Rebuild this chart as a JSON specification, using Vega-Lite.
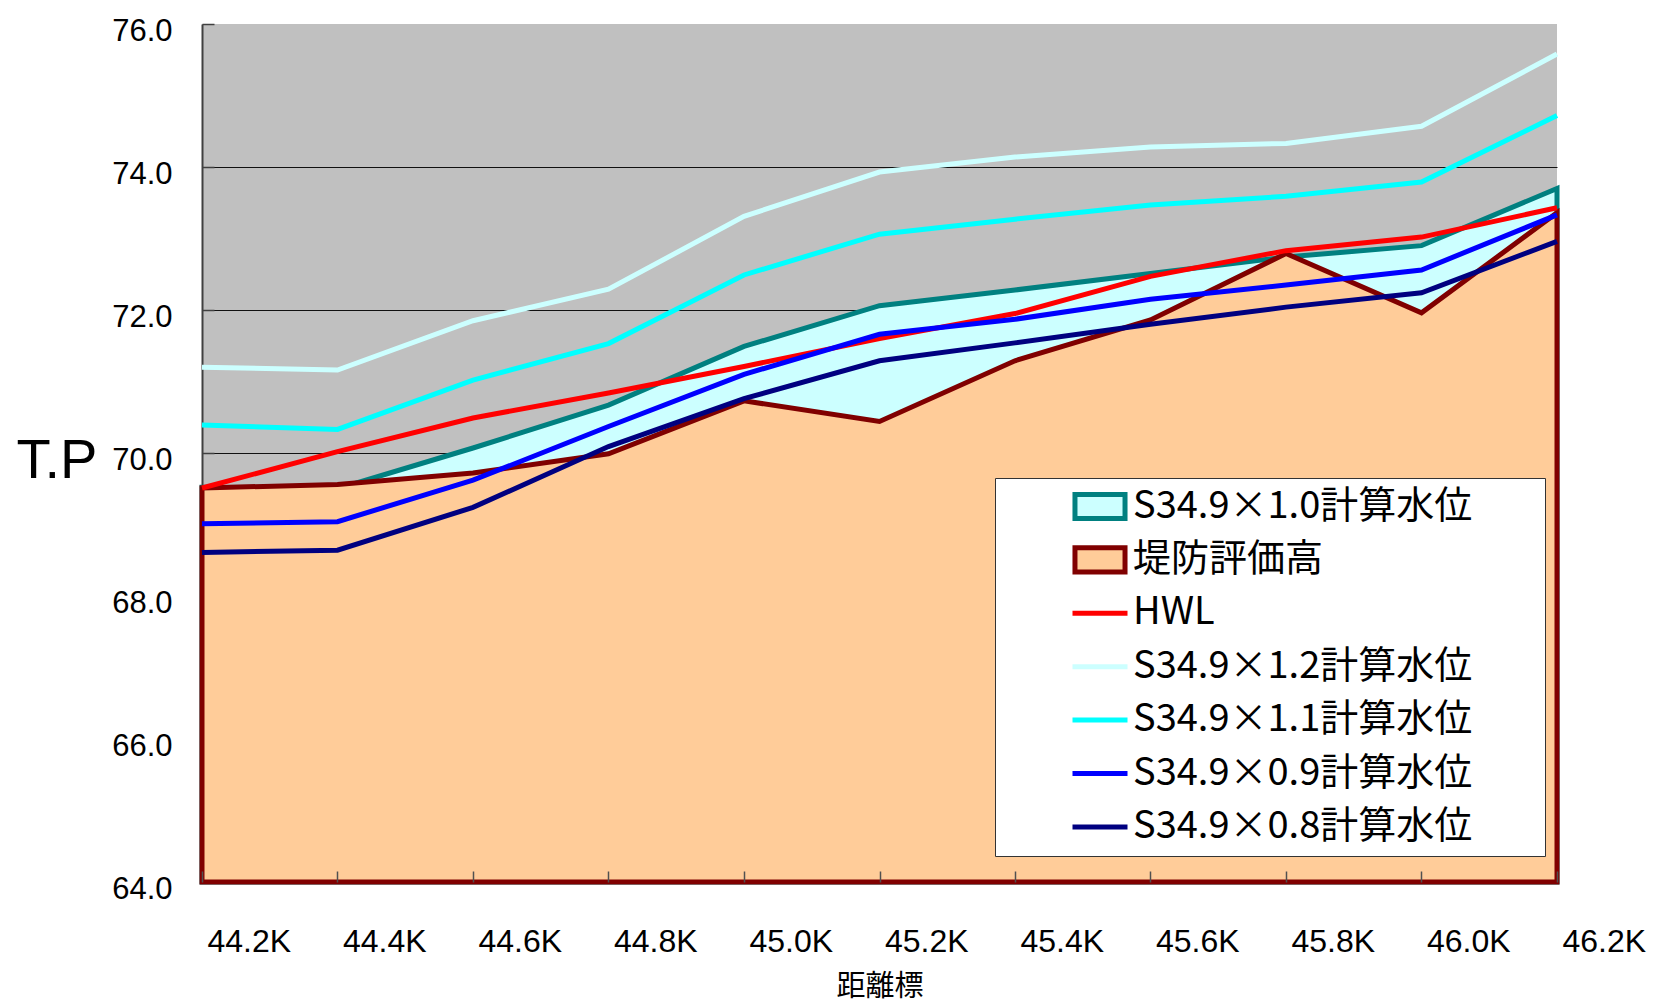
{
  "$schema": "https://vega.github.io/schema/vega-lite/v6.json",
  "width": 1355,
  "height": 858,
  "autosize": {"type": "none"},
  "padding": {"left": 202, "top": 24, "right": 97, "bottom": 120},
  "background": "white",
  "config": {
    "view": {"fill": "#C0C0C0", "stroke": null}
  },
  "datasets": {
    "levels": [
      {"km": 44.2, "series": "S34.9×1.0計算水位", "tp": 69.52},
      {"km": 44.4, "series": "S34.9×1.0計算水位", "tp": 69.50},
      {"km": 44.6, "series": "S34.9×1.0計算水位", "tp": 70.07},
      {"km": 44.8, "series": "S34.9×1.0計算水位", "tp": 70.67},
      {"km": 45.0, "series": "S34.9×1.0計算水位", "tp": 71.49},
      {"km": 45.2, "series": "S34.9×1.0計算水位", "tp": 72.06},
      {"km": 45.4, "series": "S34.9×1.0計算水位", "tp": 72.28},
      {"km": 45.6, "series": "S34.9×1.0計算水位", "tp": 72.51},
      {"km": 45.8, "series": "S34.9×1.0計算水位", "tp": 72.74},
      {"km": 46.0, "series": "S34.9×1.0計算水位", "tp": 72.90},
      {"km": 46.2, "series": "S34.9×1.0計算水位", "tp": 73.70},
      {"km": 44.2, "series": "堤防評価高", "tp": 69.51},
      {"km": 44.4, "series": "堤防評価高", "tp": 69.56},
      {"km": 44.6, "series": "堤防評価高", "tp": 69.72},
      {"km": 44.8, "series": "堤防評価高", "tp": 69.99},
      {"km": 45.0, "series": "堤防評価高", "tp": 70.73},
      {"km": 45.2, "series": "堤防評価高", "tp": 70.44},
      {"km": 45.4, "series": "堤防評価高", "tp": 71.29},
      {"km": 45.6, "series": "堤防評価高", "tp": 71.86},
      {"km": 45.8, "series": "堤防評価高", "tp": 72.79},
      {"km": 46.0, "series": "堤防評価高", "tp": 71.96},
      {"km": 46.2, "series": "堤防評価高", "tp": 73.36},
      {"km": 44.2, "series": "HWL", "tp": 69.51},
      {"km": 44.4, "series": "HWL", "tp": 70.02},
      {"km": 44.6, "series": "HWL", "tp": 70.49},
      {"km": 44.8, "series": "HWL", "tp": 70.84},
      {"km": 45.0, "series": "HWL", "tp": 71.21},
      {"km": 45.2, "series": "HWL", "tp": 71.60},
      {"km": 45.4, "series": "HWL", "tp": 71.95},
      {"km": 45.6, "series": "HWL", "tp": 72.47},
      {"km": 45.8, "series": "HWL", "tp": 72.83},
      {"km": 46.0, "series": "HWL", "tp": 73.02},
      {"km": 46.2, "series": "HWL", "tp": 73.43},
      {"km": 44.2, "series": "S34.9×1.2計算水位", "tp": 71.20},
      {"km": 44.4, "series": "S34.9×1.2計算水位", "tp": 71.16},
      {"km": 44.6, "series": "S34.9×1.2計算水位", "tp": 71.85},
      {"km": 44.8, "series": "S34.9×1.2計算水位", "tp": 72.29},
      {"km": 45.0, "series": "S34.9×1.2計算水位", "tp": 73.31},
      {"km": 45.2, "series": "S34.9×1.2計算水位", "tp": 73.93},
      {"km": 45.4, "series": "S34.9×1.2計算水位", "tp": 74.14},
      {"km": 45.6, "series": "S34.9×1.2計算水位", "tp": 74.28},
      {"km": 45.8, "series": "S34.9×1.2計算水位", "tp": 74.33},
      {"km": 46.0, "series": "S34.9×1.2計算水位", "tp": 74.57},
      {"km": 46.2, "series": "S34.9×1.2計算水位", "tp": 75.58},
      {"km": 44.2, "series": "S34.9×1.1計算水位", "tp": 70.39},
      {"km": 44.4, "series": "S34.9×1.1計算水位", "tp": 70.33},
      {"km": 44.6, "series": "S34.9×1.1計算水位", "tp": 71.02},
      {"km": 44.8, "series": "S34.9×1.1計算水位", "tp": 71.53},
      {"km": 45.0, "series": "S34.9×1.1計算水位", "tp": 72.49},
      {"km": 45.2, "series": "S34.9×1.1計算水位", "tp": 73.06},
      {"km": 45.4, "series": "S34.9×1.1計算水位", "tp": 73.27},
      {"km": 45.6, "series": "S34.9×1.1計算水位", "tp": 73.47},
      {"km": 45.8, "series": "S34.9×1.1計算水位", "tp": 73.59},
      {"km": 46.0, "series": "S34.9×1.1計算水位", "tp": 73.79},
      {"km": 46.2, "series": "S34.9×1.1計算水位", "tp": 74.72},
      {"km": 44.2, "series": "S34.9×0.9計算水位", "tp": 69.01},
      {"km": 44.4, "series": "S34.9×0.9計算水位", "tp": 69.04},
      {"km": 44.6, "series": "S34.9×0.9計算水位", "tp": 69.62},
      {"km": 44.8, "series": "S34.9×0.9計算水位", "tp": 70.37},
      {"km": 45.0, "series": "S34.9×0.9計算水位", "tp": 71.10},
      {"km": 45.2, "series": "S34.9×0.9計算水位", "tp": 71.66},
      {"km": 45.4, "series": "S34.9×0.9計算水位", "tp": 71.87},
      {"km": 45.6, "series": "S34.9×0.9計算水位", "tp": 72.15},
      {"km": 45.8, "series": "S34.9×0.9計算水位", "tp": 72.35},
      {"km": 46.0, "series": "S34.9×0.9計算水位", "tp": 72.56},
      {"km": 46.2, "series": "S34.9×0.9計算水位", "tp": 73.33},
      {"km": 44.2, "series": "S34.9×0.8計算水位", "tp": 68.61},
      {"km": 44.4, "series": "S34.9×0.8計算水位", "tp": 68.64},
      {"km": 44.6, "series": "S34.9×0.8計算水位", "tp": 69.24},
      {"km": 44.8, "series": "S34.9×0.8計算水位", "tp": 70.09},
      {"km": 45.0, "series": "S34.9×0.8計算水位", "tp": 70.76},
      {"km": 45.2, "series": "S34.9×0.8計算水位", "tp": 71.29},
      {"km": 45.4, "series": "S34.9×0.8計算水位", "tp": 71.54},
      {"km": 45.6, "series": "S34.9×0.8計算水位", "tp": 71.80},
      {"km": 45.8, "series": "S34.9×0.8計算水位", "tp": 72.04},
      {"km": 46.0, "series": "S34.9×0.8計算水位", "tp": 72.24},
      {"km": 46.2, "series": "S34.9×0.8計算水位", "tp": 72.96}
    ]
  },
  "data": {"name": "levels"},
  "encoding": {
    "x": {
      "field": "km",
      "type": "quantitative",
      "scale": {"domain": [44.2, 46.2], "nice": false, "zero": false},
      "axis": {
        "values": [44.2, 44.4, 44.6, 44.8, 45.0, 45.2, 45.4, 45.6, 45.8, 46.0, 46.2],
        "labelExpr": "format(datum.value, '.1f') + 'K'",
        "labelAlign": "left",
        "labelOffset": 5,
        "labelBaseline": "alphabetic",
        "labelPadding": 80,
        "labelFont": "Liberation Sans",
        "labelFontSize": 32,
        "labelColor": "black",
        "labelFlush": false,
        "labelOverlap": false,
        "tickSize": -11,
        "tickColor": "#505050",
        "tickWidth": 1.5,
        "domain": false,
        "grid": false,
        "zindex": 1,
        "title": "距離標",
        "titleFont": "Noto Sans CJK JP",
        "titleFontSize": 29,
        "titleFontWeight": "normal",
        "titleColor": "black",
        "titleBaseline": "alphabetic",
        "titleY": 113
      }
    },
    "y": {
      "field": "tp",
      "type": "quantitative",
      "scale": {"domain": [64, 76], "nice": false, "zero": false},
      "axis": {
        "values": [64, 66, 68, 70, 72, 74, 76],
        "format": ".1f",
        "labelFont": "Liberation Sans",
        "labelFontSize": 31,
        "labelColor": "black",
        "labelBaseline": "alphabetic",
        "labelOffset": 16,
        "labelPadding": 42,
        "tickSize": -12,
        "tickColor": "#404040",
        "tickWidth": 1.5,
        "domainColor": "#404040",
        "domainWidth": 2,
        "grid": true,
        "gridColor": {"condition": {"test": "datum.value === 76", "value": "transparent"}, "value": "#111111"},
        "gridWidth": 1,
        "title": "T.P",
        "titleAngle": 0,
        "titleAlign": "left",
        "titleBaseline": "alphabetic",
        "titleX": -186,
        "titleY": 453,
        "titleFont": "Liberation Sans",
        "titleFontSize": 56,
        "titleFontWeight": "normal",
        "titleColor": "black"
      }
    },
    "stroke": {
      "field": "series",
      "type": "nominal",
      "scale": {
        "domain": ["S34.9×1.0計算水位", "堤防評価高", "HWL", "S34.9×1.2計算水位", "S34.9×1.1計算水位", "S34.9×0.9計算水位", "S34.9×0.8計算水位"],
        "range": ["#008080", "#800000", "#FF0000", "#CCFFFF", "#00FFFF", "#0000FF", "#000080"]
      },
      "legend": {
        "orient": "none",
        "legendX": 793,
        "legendY": 454,
        "title": " ",
        "titleOrient": "right",
        "titlePadding": 69,
        "padding": 4,
        "fillColor": "white",
        "strokeColor": "#333333",
        "labelFont": "Noto Sans CJK JP",
        "labelFontSize": 38,
        "labelColor": "black",
        "labelLimit": 1000,
        "symbolSize": 3025,
        "symbolStrokeWidth": 5,
        "symbolOffset": 71,
        "labelOffset": 3,
        "clipHeight": 49,
        "rowPadding": 4.4,
        "encode": {
          "symbols": {
            "update": {
              "shape": {"signal": "indexof(['S34.9×1.0計算水位', '堤防評価高'], datum.value) >= 0 ? 'M-0.91,-0.44H0.91V0.44H-0.91Z' : 'stroke'"},
              "fill": {"signal": "datum.value === '堤防評価高' ? '#FFCC99' : (datum.value === 'S34.9×1.0計算水位' ? '#CCFFFF' : 'transparent')"},
              "strokeWidth": {"value": 5},
              "opacity": {"value": 1}
            }
          }
        }
      }
    }
  },
  "layer": [
    {
      "transform": [{"filter": "datum.series === 'S34.9×1.0計算水位'"}],
      "mark": {"type": "area", "fill": "#CCFFFF", "strokeWidth": 5, "fillOpacity": 1},
      "encoding": {"y2": {"datum": 64}}
    },
    {
      "transform": [{"filter": "datum.series === '堤防評価高'"}],
      "mark": {"type": "area", "fill": "#FFCC99", "strokeWidth": 5, "fillOpacity": 1},
      "encoding": {"y2": {"datum": 64}}
    },
    {
      "transform": [{"filter": "datum.series !== 'S34.9×1.0計算水位' && datum.series !== '堤防評価高'"}],
      "mark": {"type": "line", "strokeWidth": 5, "strokeJoin": "miter"},
      "encoding": {}
    }
  ]
}
